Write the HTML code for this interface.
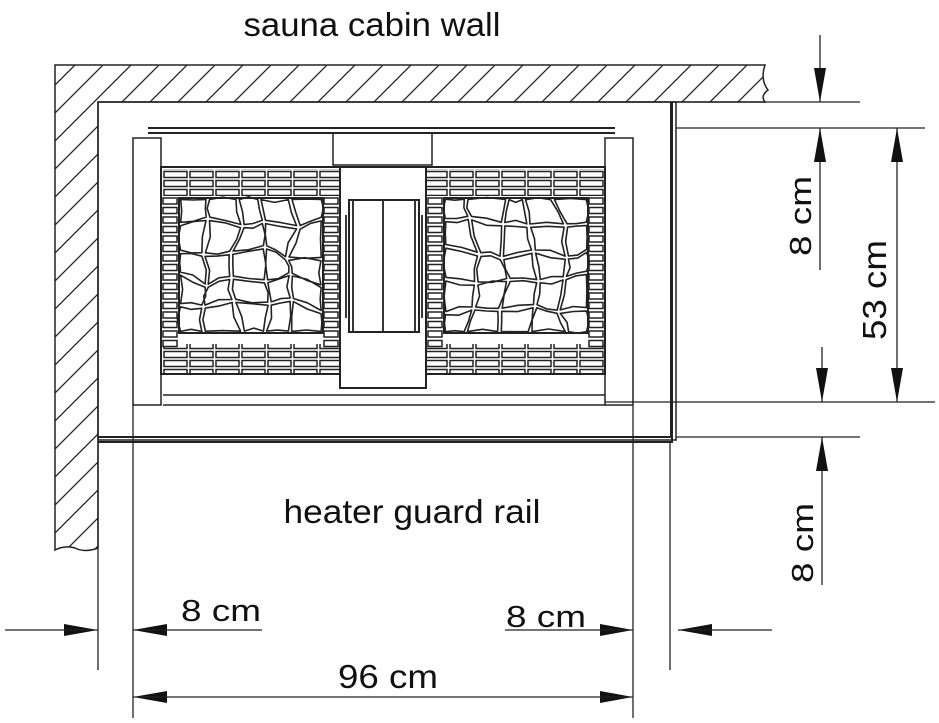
<!DOCTYPE html>
<html><head><meta charset="utf-8"><style>
html,body{margin:0;padding:0;background:#fff}
svg{display:block}
text{font-family:"Liberation Sans",sans-serif;fill:#111}
</style></head><body>
<svg id="s" width="939" height="723" viewBox="0 0 939 723" xmlns="http://www.w3.org/2000/svg">
<defs>
<pattern id="hatch" patternUnits="userSpaceOnUse" width="28" height="28">
<path d="M-7 35 L35 -7 M-7 7 L7 -7 M21 35 L35 21" stroke="#222" stroke-width="1.3"/>
</pattern>
<pattern id="brick" patternUnits="userSpaceOnUse" x="163" y="170" width="26" height="9">
<rect x="1" y="1.5" width="23" height="6" fill="#fff" stroke="#222" stroke-width="1.5"/>
</pattern>
</defs>
<g fill="none" stroke="#222" stroke-width="1.5">
<path d="M55 65 H765 Q760 80 768 90 Q760 96 765 102 H98 V548 Q85 553 75 548 Q65 545 55 550 Z" fill="url(#hatch)"/>
<rect x="98" y="102" width="578" height="338"/>
<path d="M98 437 H671 V102 M672 102 V442 H98" stroke-width="2"/>
<path d="M148 128 H615 M148 133 H615" stroke-width="2"/>
<rect x="133" y="138" width="28" height="267"/>
<rect x="605" y="138" width="28" height="267"/>
<rect x="333" y="133" width="99" height="32"/>
<path d="M163 395 H605 M163 405 H605" stroke-width="1.5"/>
<rect x="161" y="167" width="180" height="207" fill="#fff" stroke-width="2"/>
<rect x="426" y="167" width="179" height="207" fill="#fff" stroke-width="2"/>
<rect x="162" y="169" width="178" height="27" fill="url(#brick)" stroke="none"/>
<rect x="162" y="344" width="178" height="29" fill="url(#brick)" stroke="none"/>
<rect x="427" y="169" width="177" height="27" fill="url(#brick)" stroke="none"/>
<rect x="427" y="344" width="177" height="29" fill="url(#brick)" stroke="none"/>
<g id="cols"></g>
<rect x="179" y="198" width="144" height="135" fill="#fff"/>
<rect x="444" y="198" width="144" height="135" fill="#fff"/>
<g id="stones" stroke-width="1.6"></g>
<rect x="340" y="167" width="86" height="221" fill="#fff" stroke-width="2"/>
<rect x="349" y="200" width="70" height="132" stroke-width="2"/>
<path d="M383 200 V332 M346 215 V318 M422 215 V318 M353 200 V332 M415 200 V332" stroke-width="1.8"/>
<path d="M676 102 H860 M676 128 H925 M605 402 H935 M676 437 H860" stroke-width="1.2"/>
<path d="M820 35 V102 M820 128 V270 M897 128 V402 M822 347 V402 M822 437 V585" stroke-width="1.3"/>
</g>
<g fill="#111">
<path d="M814 68 L826 68 L820 102 Z M814 162 L826 162 L820 128 Z M891 162 L903 162 L897 128 Z M891 368 L903 368 L897 402 Z M816 368 L828 368 L822 402 Z M816 471 L828 471 L822 437 Z"/>
<path d="M64 624 L64 636 L98 630 Z M167 624 L167 636 L133 630 Z M600 624 L600 636 L633 630 Z M712 624 L712 636 L678 630 Z M167 691 L167 703 L133 697 Z M600 691 L600 703 L633 697 Z"/>
</g>
<g fill="none" stroke="#222" stroke-width="1.3">
<path d="M98 442 V670 M133 405 V718 M633 405 V718 M670 442 V670"/>
<path d="M5 630 H98 M133 630 H262 M505 630 H633 M678 630 H772 M133 697 H633"/>
</g>
<text x="372" y="36" font-size="33" text-anchor="middle" textLength="257" lengthAdjust="spacingAndGlyphs">sauna cabin wall</text>
<text x="412" y="523" font-size="33" text-anchor="middle" textLength="257" lengthAdjust="spacingAndGlyphs">heater guard rail</text>
<text x="221" y="621" font-size="31" text-anchor="middle" textLength="80" lengthAdjust="spacingAndGlyphs">8 cm</text>
<text x="546" y="627" font-size="31" text-anchor="middle" textLength="80" lengthAdjust="spacingAndGlyphs">8 cm</text>
<text x="388" y="688" font-size="33" text-anchor="middle" textLength="100" lengthAdjust="spacingAndGlyphs">96 cm</text>
<text transform="translate(811,216) rotate(-90)" font-size="31" text-anchor="middle" textLength="80" lengthAdjust="spacingAndGlyphs">8 cm</text>
<text transform="translate(886,290) rotate(-90)" font-size="33" text-anchor="middle" textLength="100" lengthAdjust="spacingAndGlyphs">53 cm</text>
<text transform="translate(813,543) rotate(-90)" font-size="31" text-anchor="middle" textLength="80" lengthAdjust="spacingAndGlyphs">8 cm</text>
</svg>
<script>
(function(){
var NS="http://www.w3.org/2000/svg";
var cols=document.getElementById("cols");
[162,323,427,588].forEach(function(x){
 for(var y=198;y<342;y+=9.5){var r=document.createElementNS(NS,"rect");
 r.setAttribute("x",x+1);r.setAttribute("y",y);r.setAttribute("width",14);r.setAttribute("height",6);
 r.setAttribute("fill","#fff");r.setAttribute("stroke","#222");r.setAttribute("stroke-width","1.5");cols.appendChild(r);}
});
var g=document.getElementById("stones");
var seed=7;function rnd(){seed=(seed*9301+49297)%233280;return seed/233280;}
[[179,198],[444,198]].forEach(function(o){
 var W=144,H=135,nx=5,ny=5,cw=W/nx,ch=H/ny,P=[];
 for(var j=0;j<=ny;j++){P[j]=[];for(var i=0;i<=nx;i++){
  var x=o[0]+i*cw+((i>0&&i<nx)?(rnd()-0.5)*cw*0.6:0);
  var y=o[1]+j*ch+((j>0&&j<ny)?(rnd()-0.5)*ch*0.6:0);P[j][i]=[x,y];}}
 var d="";
 for(var j=0;j<ny;j++)for(var i=0;i<nx;i++){
  var a=P[j][i],b=P[j][i+1],c=P[j+1][i+1],e=P[j+1][i];
  var mx=(a[0]+b[0]+c[0]+e[0])/4,my=(a[1]+b[1]+c[1]+e[1])/4;
  var pts=[a,[(a[0]+b[0])/2,(a[1]+b[1])/2+(rnd()-0.5)*7],b,[(b[0]+c[0])/2+(rnd()-0.5)*7,(b[1]+c[1])/2],c,[(c[0]+e[0])/2,(c[1]+e[1])/2+(rnd()-0.5)*7],e,[(e[0]+a[0])/2+(rnd()-0.5)*7,(e[1]+a[1])/2]];
  d+="M"+pts.map(function(p){var k=0.88;return (mx+(p[0]-mx)*k).toFixed(1)+" "+(my+(p[1]-my)*k).toFixed(1);}).join(" L")+"Z ";
 }
 var p=document.createElementNS(NS,"path");p.setAttribute("d",d);p.setAttribute("fill","none");p.setAttribute("stroke","#222");p.setAttribute("stroke-linejoin","round");g.appendChild(p);
 var r=document.createElementNS(NS,"rect");r.setAttribute("x",o[0]);r.setAttribute("y",o[1]);r.setAttribute("width",W);r.setAttribute("height",H);r.setAttribute("fill","none");r.setAttribute("stroke","#222");r.setAttribute("stroke-width","2");g.appendChild(r);
});
})();
</script>
</body></html>
